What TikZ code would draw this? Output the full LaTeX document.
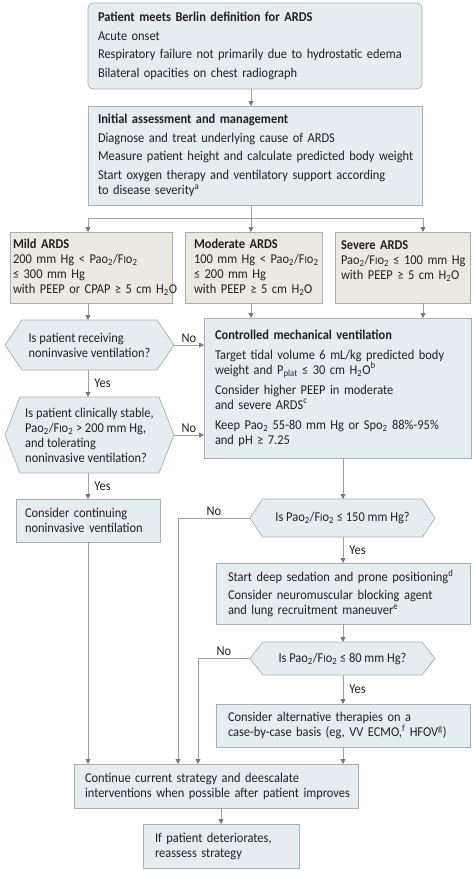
\documentclass[tikz,border=0pt]{standalone}
\usepackage{fontspec}
\usepackage{graphicx}
\setmainfont{Carlito}[FakeStretch=0.92]
\usetikzlibrary{arrows.meta,calc}
\pgfdeclarelayer{bg}
\pgfsetlayers{bg,main}
\definecolor{bfill}{RGB}{229,237,241}
\definecolor{beige}{RGB}{236,233,226}
\definecolor{bord}{RGB}{168,176,180}
\definecolor{lcol}{RGB}{160,160,160}
\definecolor{acol}{RGB}{120,120,120}
\definecolor{tcol}{RGB}{35,31,32}
\newcommand\fio{F\scalebox{0.78}{I}o\textsubscript{2}}
\newcommand\pao{Pao\textsubscript{2}}
\newcommand\LL[1]{\mbox{#1}}
\newcommand\hexat[2]{\begin{pgfonlayer}{bg}\draw[hexdraw] ([xshift=#2]#1.north west) -- ([xshift=-#2]#1.north east) -- (#1.east) -- ([xshift=-#2]#1.south east) -- ([xshift=#2]#1.south west) -- (#1.west) -- cycle;\end{pgfonlayer}}
\tikzset{
  box/.style={draw=bord, fill=bfill, line width=0.7pt, anchor=north west, inner ysep=0pt, outer sep=0pt, align=left, text=tcol},
  tanbox/.style={box, fill=beige},
  hexnode/.style={anchor=north west, inner sep=0pt, outer sep=0pt, align=left, text=tcol},
  hexdraw/.style={draw=bord, fill=bfill, line width=0.7pt},
  plain/.style={draw=lcol, line width=0.8pt},
  arr/.style={plain, -{Triangle[length=5pt,width=5pt,color=acol]}},
  lbl/.style={inner sep=1pt, text=tcol}
}
\begin{document}
\begin{tikzpicture}[x=1pt,y=-1pt,font=\fontsize{13.5}{15}\selectfont]
\useasboundingbox (0,0) rectangle (474,871);
\begin{pgfonlayer}{bg}\fill[white] (0,0) rectangle (474,871);\end{pgfonlayer}

\coordinate (cx1) at (88,0);
\coordinate (cx2) at (251,0);
\coordinate (cx3) at (423,0);
\coordinate (cx4) at (343,0);
\coordinate (cx5) at (178,0);
\coordinate (cx6) at (198,0);
\coordinate (cx7) at (221,0);
\coordinate (cy) at (0,218);

\node[box, rounded corners=5pt, inner xsep=10pt, text width=314pt, minimum height=86pt] (b1) at (88,3)
 {\LL{\textbf{Patient meets Berlin definition for ARDS}}\\[3.5pt]
  \LL{Acute onset}\\[3.5pt]
  \LL{Respiratory failure not primarily due to hydrostatic edema}\\[3.5pt]
  \LL{Bilateral opacities on chest radiograph}};

\node[box, inner xsep=10pt, text width=314pt, minimum height=99pt] (b2) at (88,106)
 {\LL{\textbf{Initial assessment and management}}\\[3.5pt]
  \LL{Diagnose and treat underlying cause of ARDS}\\[3.5pt]
  \LL{Measure patient height and calculate predicted body weight}\\[3.5pt]
  \LL{Start oxygen therapy and ventilatory support according}\\
  \LL{to disease severity\textsuperscript{a}}};

\node[tanbox, inner xsep=3pt, text width=156pt, minimum height=71pt] (mild) at (10,232)
 {\LL{\textbf{Mild ARDS}}\\
  \LL{200 mm Hg < \pao/\fio}\\
  \LL{≤ 300 mm Hg}\\
  \LL{with PEEP or CPAP ≥ 5 cm H\textsubscript{2}O}};

\node[tanbox, inner xsep=9pt, text width=119pt, minimum height=71pt] (mod) at (185,232)
 {\LL{\textbf{Moderate ARDS}}\\
  \LL{100 mm Hg < \pao/\fio}\\
  \LL{≤ 200 mm Hg}\\
  \LL{with PEEP ≥ 5 cm H\textsubscript{2}O}};

\node[tanbox, inner xsep=6pt, text width=123pt, minimum height=71pt] (sev) at (335,232)
 {\LL{\textbf{Severe ARDS}}\\
  \LL{\pao/\fio{} ≤ 100 mm Hg}\\
  \LL{with PEEP ≥ 5 cm H\textsubscript{2}O}\\
  \mbox{}};

\node[box, inner xsep=11pt, text width=245pt, minimum height=140pt] (mv) at (204,318)
 {\LL{\textbf{Controlled mechanical ventilation}}\\[5pt]
  \LL{Target tidal volume 6 mL/kg predicted body}\\
  \LL{weight and P\textsubscript{plat} ≤ 30 cm H\textsubscript{2}O\textsuperscript{b}}\\[5pt]
  \LL{Consider higher PEEP in moderate}\\
  \LL{and severe ARDS\textsuperscript{c}}\\[5pt]
  \LL{Keep \pao{} 55-80 mm Hg or Spo\textsubscript{2} 88\%-95\%}\\
  \LL{and pH ≥ 7.25}};

\node[hexnode, minimum width=169pt, minimum height=50pt] (d1) at (5,320)
 {Is patient receiving\\ noninvasive ventilation?};
\hexat{d1}{17pt}

\node[hexnode, minimum width=169pt, minimum height=76pt] (d2) at (5,397)
 {Is patient clinically stable,\\ \pao/\fio{} > 200 mm Hg,\\ and tolerating\\ noninvasive ventilation?};
\hexat{d2}{15pt}

\node[box, inner xsep=9pt, text width=126pt, minimum height=43pt] (cc) at (16,499)
 {\LL{Consider continuing}\\ \LL{noninvasive ventilation}};

\node[hexnode, minimum width=185pt, minimum height=38pt] (d3) at (250,499)
 {Is \pao/\fio{} ≤ 150 mm Hg?};
\hexat{d3}{12.5pt}

\node[box, inner xsep=12pt, text width=230pt, minimum height=61pt] (sd) at (216,563)
 {\LL{Start deep sedation and prone positioning\textsuperscript{d}}\\[3.5pt]
  \LL{Consider neuromuscular blocking agent}\\
  \LL{and lung recruitment maneuver\textsuperscript{e}}};

\node[hexnode, minimum width=185pt, minimum height=33pt] (d4) at (250,642)
 {Is \pao/\fio{} ≤ 80 mm Hg?};
\hexat{d4}{13pt}

\node[box, inner xsep=12pt, text width=230pt, minimum height=43pt] (ca) at (216,704)
 {\LL{Consider alternative therapies on a}\\
  \LL{case-by-case basis (eg, VV ECMO,\textsuperscript{f} HFOV\textsuperscript{g})}};

\node[box, inner xsep=11pt, text width=262pt, minimum height=44pt] (cs) at (74,764)
 {\LL{Continue current strategy and deescalate}\\
  \LL{interventions when possible after patient improves}};

\node[box, inner xsep=12pt, text width=132pt, minimum height=44pt] (ip) at (143,824)
 {\LL{If patient deteriorates,}\\ \LL{reassess strategy}};

% connectors
\draw[arr] (b1.south -| cx2) -- (b2.north -| cx2);
\draw[plain] (b2.south -| cx2) -- (cx2 |- cy);
\draw[plain] (cx1 |- cy) -- (cx3 |- cy);
\draw[arr] (cx1 |- cy) -- (mild.north -| cx1);
\draw[arr] (cx2 |- cy) -- (mod.north -| cx2);
\draw[arr] (cx3 |- cy) -- (sev.north -| cx3);
\draw[arr] (mild.south -| cx1) -- (d1.north -| cx1);
\draw[arr] (mod.south -| cx2) -- (mv.north -| cx2);
\draw[arr] (sev.south -| cx3) -- (mv.north -| cx3);
\draw[arr] (d1.east) -- node[lbl, above=1.5pt] {No} (d1.east -| mv.west);
\draw[arr] (d1.south -| cx1) -- node[lbl, right=5pt] {Yes} (d2.north -| cx1);
\draw[arr] (d2.east) -- node[lbl, above=1.5pt] {No} (d2.east -| mv.west);
\draw[arr] (d2.south -| cx1) -- node[lbl, right=5pt] {Yes} (cc.north -| cx1);
\draw[arr] (cc.south -| cx1) -- (cs.north -| cx1);
\draw[arr] (mv.south -| cx4) -- (d3.north -| cx4);
\draw[arr] (d3.west) -| node[lbl, pos=0.25, above=1.5pt] {No} (cs.north -| cx5);
\draw[arr] (d3.south -| cx4) -- node[lbl, right=5pt] {Yes} (sd.north -| cx4);
\draw[arr] (sd.south -| cx4) -- (d4.north -| cx4);
\draw[arr] (d4.west) -| node[lbl, pos=0.25, above=1.5pt] {No} (cs.north -| cx6);
\draw[arr] (d4.south -| cx4) -- node[lbl, right=5pt] {Yes} (ca.north -| cx4);
\draw[arr] (ca.south -| cx4) -- (cs.north -| cx4);
\draw[arr] (cs.south -| cx7) -- (ip.north -| cx7);
\end{tikzpicture}
\end{document}
